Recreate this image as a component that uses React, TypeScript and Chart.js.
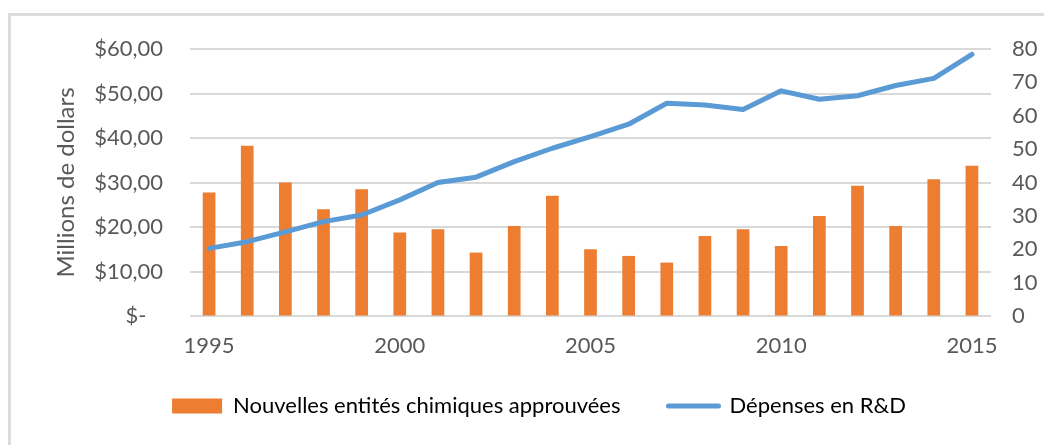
import React, { useEffect, useRef } from "react";
import { Chart, registerables } from "chart.js";

Chart.register(...registerables);

const years = [
  "1995", "1996", "1997", "1998", "1999", "2000", "2001", "2002", "2003", "2004",
  "2005", "2006", "2007", "2008", "2009", "2010", "2011", "2012", "2013", "2014", "2015",
];
const shownYears = ["1995", "2000", "2005", "2010", "2015"];

// New chemical entities approved per year (right axis)
const approvedEntities = [37, 51, 40, 32, 38, 25, 26, 19, 27, 36, 20, 18, 16, 24, 26, 21, 30, 39, 27, 41, 45];
// R&D spending (left axis, dollars)
const rdSpending = [
  15.2, 16.7, 18.9, 21.2, 22.7, 26.1, 30.0, 31.2, 34.7, 37.7,
  40.3, 43.1, 47.8, 47.4, 46.4, 50.6, 48.7, 49.5, 51.8, 53.4, 58.8,
];

const barLabel = "Nouvelles entités chimiques approuvées";
const lineLabel = "Dépenses en R&D";
const leftTitle = "Millions de dollars";

const ORANGE = "#ED7D31";
const BLUE = "#5B9BD5";
const GRID = "#D9D9D9";
const TEXT = "#595959";
const FONT = "Lato, 'Liberation Sans', sans-serif";

// Nudges the legend block after layout so it sits under the plot as intended.
const legendOffset = {
  id: "legendOffset",
  afterLayout(chart: any) {
    const lg = chart.legend;
    if (!lg) return;
    lg.top -= 14;
    lg.bottom -= 14;
    lg.left += 17;
    lg.right += 17;
  },
};

export default function App() {
  const canvasRef = useRef<HTMLCanvasElement | null>(null);

  useEffect(() => {
    const canvas = canvasRef.current;
    if (!canvas) return;
    const chart = new Chart(canvas, {
      type: "bar",
      data: {
        labels: years,
        datasets: [
          {
            type: "bar",
            label: barLabel,
            data: approvedEntities,
            backgroundColor: ORANGE,
            yAxisID: "yRight",
            categoryPercentage: 1,
            barPercentage: 0.333,
            order: 1,
          },
          {
            type: "line",
            label: lineLabel,
            data: rdSpending,
            borderColor: BLUE,
            backgroundColor: BLUE,
            borderWidth: 5,
            pointRadius: 0,
            tension: 0,
            borderCapStyle: "round",
            borderJoinStyle: "round",
            yAxisID: "yLeft",
            order: 0,
          },
        ],
      },
      plugins: [legendOffset],
      options: {
        responsive: false,
        animation: false,
        events: [],
        layout: { padding: { top: 49, bottom: 4, left: 0, right: 0 } },
        plugins: {
          tooltip: { enabled: false },
          legend: {
            position: "bottom",
            labels: {
              usePointStyle: true,
              pointStyleWidth: 50,
              boxHeight: 15,
              padding: 48,
              color: TEXT,
              font: { family: FONT, size: 22 },
              generateLabels: () => [
                {
                  text: barLabel,
                  fillStyle: ORANGE,
                  strokeStyle: ORANGE,
                  lineWidth: 0,
                  pointStyle: "rect",
                  datasetIndex: 0,
                  hidden: false,
                },
                {
                  text: lineLabel,
                  fillStyle: BLUE,
                  strokeStyle: BLUE,
                  lineWidth: 5,
                  lineCap: "round",
                  pointStyle: "line",
                  datasetIndex: 1,
                  hidden: false,
                },
              ],
            },
          },
        },
        scales: {
          x: {
            offset: true,
            grid: { display: false, drawTicks: false },
            border: { display: false },
            ticks: {
              autoSkip: false,
              maxRotation: 0,
              padding: 17,
              color: TEXT,
              font: { family: FONT, size: 22 },
              callback: (_v: any, i: number) => (shownYears.includes(years[i]) ? years[i] : ""),
            },
            afterFit: (scale: any) => {
              scale.height = 45;
            },
          },
          yLeft: {
            position: "left",
            min: 0,
            max: 60,
            border: { display: false },
            grid: { color: GRID, lineWidth: 2, drawTicks: false },
            ticks: {
              stepSize: 10,
              padding: 27,
              color: TEXT,
              font: { family: FONT, size: 22 },
              callback: (v: any) => (Number(v) === 0 ? "$-\u2002 " : "$" + v + ",00"),
            },
            title: {
              display: true,
              text: leftTitle,
              color: TEXT,
              font: { family: FONT, size: 24 },
              padding: { top: 52, bottom: 0 },
            },
            afterFit: (scale: any) => {
              scale.width = 190;
            },
          },
          yRight: {
            position: "right",
            min: 0,
            max: 80,
            border: { display: false },
            grid: { drawOnChartArea: false, drawTicks: false },
            ticks: {
              stepSize: 10,
              padding: 21,
              color: TEXT,
              font: { family: FONT, size: 22 },
            },
            afterFit: (scale: any) => {
              scale.width = 53;
            },
          },
        },
      },
    } as any);
    return () => chart.destroy();
  }, []);

  return (
    <div style={{ position: "fixed", left: 0, top: 0, width: 1044, height: 445, background: "#fff", overflow: "hidden" }}>
      <div
        style={{
          position: "absolute",
          left: 8,
          top: 13,
          width: 1100,
          height: 500,
          borderLeft: "3px solid #DCDCDC",
          borderTop: "3px solid #DCDCDC",
        }}
      />
      <canvas ref={canvasRef} width={1044} height={445} style={{ position: "absolute", left: 0, top: 0 }} />
    </div>
  );
}
